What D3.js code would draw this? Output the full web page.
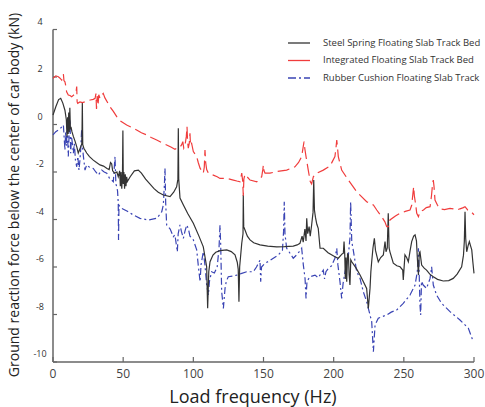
<!DOCTYPE html>
<html>
<head>
<meta charset="utf-8">
<script src="https://cdn.jsdelivr.net/npm/d3@7"></script>
<style>
  body { margin: 0; background: #fff; }
  text { font-family: "Open Sans", "DejaVu Sans", sans-serif; fill: #333; }
</style>
</head>
<body>
<script>
// series: [frequency (Hz), reaction force (kN)]
var steelSpring = [
  [0,0.4],[2,0.75],[4,1.05],[5.5,1.1],[7,0.9],[8.5,0.6],
  [9.5,0.2],[10,-0.5],[10.4,0.3],[10.8,-0.4],[11.2,0.5],[11.6,-0.3],[12,0.7],[12.4,-0.2],[12.8,-0.1],
  [13.5,-0.3],[14.5,-0.5],[15.7,-0.7],[17,-0.95],[18,-1.2],[19,-1.05],[20,-0.9],[20.6,-0.8],[20.9,0.95],[21.2,-0.85],
  [22,-1.0],[24,-1.2],[26,-1.35],[28.7,-1.5],[31,-1.6],[33.5,-1.7],[36,-1.75],[38.5,-1.85],[40,-1.9],[41,-1.6],
  [41.8,-1.65],[42.5,-1.95],[44,-2.05],[45.5,-2.0],[46.5,-2.2],[47.5,-1.95],[48,-2.6],[48.5,-2.0],[49,-2.7],[49.5,-2.1],
  [49.8,-0.25],[50.1,-2.5],[50.5,-2.0],[51,-2.7],[51.5,-2.1],[52,-2.6],[52.5,-2.2],[53,-2.4],[55,-2.2],[58,-1.95],
  [60.8,-1.92],[63,-2.05],[66,-2.3],[69,-2.5],[72,-2.7],[75,-2.85],[78.6,-2.97],[83.4,-3.04],[86,-2.85],[88.1,-2.62],
  [89,-2.3],[89.3,-0.16],[89.6,-2.3],[90.5,-3.1],[93,-3.4],[96,-3.75],[100,-4.16],[104,-4.7],[107.1,-5.15],[109.5,-5.99],
  [110.2,-7.74],[111,-6.2],[111.9,-5.78],[114,-5.5],[116,-5.38],[119,-5.31],[123.8,-5.28],[127,-5.35],[129.7,-5.49],
  [131.3,-5.8],[132,-6.1],[132.5,-7.46],[133,-6.0],[134.5,-5.0],[135.4,-4.6],[135.6,-2.97],[135.9,-4.3],[136.8,-4.44],
  [138.5,-4.7],[140.4,-4.86],[143,-4.98],[147.5,-5.07],[153,-5.12],[159.4,-5.15],[165,-5.14],[171.2,-5.12],[174,-5.07],
  [176,-5.0],[177.5,-4.7],[178.3,-4.95],[179.5,-4.4],[180.3,-4.9],[180.8,-3.95],[181.5,-4.6],[182.5,-4.3],[183.3,-4.7],
  [184.3,-4.23],[185.3,-3.7],[185.8,-2.34],[186.3,-3.6],[187,-3.9],[188,-4.2],[189,-4.37],[190.3,-5.21],[192.6,-5.21],
  [196,-5.4],[200.9,-5.57],[203.3,-5.63],[206,-5.45],[206.9,-5.42],[207.4,-4.93],[207.9,-5.5],[208.3,-6.5],[208.8,-5.6],
  [209.3,-6.62],[209.9,-5.45],[210.5,-5.49],[211,-6.3],[211.6,-6.76],[212.2,-5.7],[212.9,-5.78],[216,-6.05],[218.8,-6.34],
  [221,-6.6],[223.5,-6.9],[224.7,-7.74],[225.9,-6.9],[226.5,-6.2],[227.1,-5.78],[228,-5.2],[229,-4.79],[229.8,-5.3],
  [231.8,-5.78],[233.5,-5.6],[235.4,-5.49],[236.6,-4.93],[237.3,-5.36],[238.2,-5.2],[238.9,-3.74],[239.5,-5.2],[240.1,-5.36],
  [242.5,-5.84],[245,-5.95],[247.3,-5.99],[249.2,-6.13],[249.6,-6.55],[250.1,-6.1],[250.8,-5.49],[252,-5.6],[253.2,-5.78],
  [254.5,-5.3],[255.6,-4.93],[257,-4.7],[258,-4.65],[259,-4.9],[259.6,-5.6],[260.4,-6.34],[261,-5.4],[261.5,-5.36],
  [262.7,-5.92],[264.5,-6.05],[266.2,-6.13],[268.5,-6.3],[271,-6.41],[274,-6.52],[278.1,-6.59],[282,-6.57],[285.2,-6.48],
  [288,-6.3],[291.2,-5.99],[292.5,-5.5],[293.1,-4.93],[293.6,-3.67],[294.1,-4.8],[294.8,-5.36],[295.8,-5.1],[296.7,-4.93],
  [297.5,-5.1],[298.4,-5.28],[299.2,-5.8],[300,-6.27]
];

var integrated = [
  [0,1.95],[2,2.05],[3.8,2.01],[5,1.95],[6.2,1.87],[7,2.0],[7.4,2.12],[7.8,1.85],[8.5,1.8],[9.2,1.6],[9.7,1.38],
  [10.9,1.24],[12.1,1.22],[13.3,1.17],[15,1.25],[16.3,1.3],[16.9,1.6],[17.2,0.95],[17.6,0.89],[19.2,0.95],[21,0.92],
  [24,0.98],[26.5,1.03],[28.7,1.06],[30,1.1],[30.6,1.3],[31,0.65],[31.5,1.2],[32.1,0.8],[32.6,1.25],[33.5,1.1],
  [35,1.25],[35.8,1.31],[37,1.12],[40.6,0.75],[43,0.55],[45.4,0.33],[48,0.15],[52.5,-0.02],[56,-0.12],[59.6,-0.23],
  [63,-0.35],[66.8,-0.44],[70,-0.55],[73.9,-0.65],[77,-0.75],[81,-0.86],[84,-0.95],[86.9,-1.04],[88.1,-1.0],[89.3,-0.99],
  [90.5,-0.95],[91.7,-0.85],[92.5,-0.72],[93.2,-1.0],[94,-0.9],[95,-0.5],[95.5,-0.09],[95.9,-0.7],[96.4,-1.0],[97.1,-0.8],
  [97.6,-0.37],[98,-0.9],[98.8,-0.8],[100,-1.14],[102.4,-1.35],[103.5,-1.6],[104.8,-1.84],[107.1,-2.05],[107.8,-1.8],
  [108.3,-1.07],[108.8,-1.6],[109.5,-1.9],[110.7,-2.05],[114.2,-2.13],[117,-2.2],[119,-2.27],[123.8,-2.27],[128.5,-2.34],
  [131,-2.38],[133.3,-2.41],[134.5,-2.05],[135.2,-2.4],[135.6,-3.0],[136,-2.3],[136.8,-2.1],[140.4,-2.34],[145.2,-2.41],
  [148.7,-2.2],[149.5,-1.9],[149.9,-1.71],[150.4,-1.95],[151.1,-2.05],[154.6,-2.05],[159.4,-1.98],[166.5,-1.92],
  [172.4,-1.78],[175,-1.6],[177.2,-1.35],[178.4,-0.9],[178.9,-0.72],[179.4,-1.0],[180.3,-1.35],[181.9,-1.92],[183.3,-2.4],
  [184.3,-2.5],[185.5,-2.2],[187.9,-2.05],[192.6,-1.92],[197.4,-1.75],[200.9,-1.35],[201.7,-0.95],[202.2,-0.65],
  [202.7,-0.95],[203.3,-1.35],[205.7,-1.92],[210.5,-2.34],[216.4,-2.83],[223.5,-3.25],[228.3,-3.39],[230.7,-3.6],
  [234.2,-3.88],[236.5,-4.1],[237.8,-4.3],[238.9,-4.3],[240.1,-4.02],[244,-3.85],[247.3,-3.74],[251,-3.66],[254.4,-3.6],
  [255.6,-3.4],[256.5,-2.9],[257,-2.62],[257.5,-3.0],[258.5,-3.4],[259.2,-3.74],[260.4,-3.88],[261.5,-3.67],[264,-3.6],
  [266,-3.5],[268.7,-3.46],[269.7,-3.0],[270.5,-2.5],[271,-2.34],[271.5,-2.6],[272.2,-3.18],[274,-3.4],[275.8,-3.55],
  [279,-3.58],[282.9,-3.53],[285.2,-3.55],[288,-3.6],[290,-3.55],[292.4,-3.5],[293.6,-3.46],[295.5,-3.6],[297.5,-3.65],
  [300,-3.8]
];

var rubberCushion = [
  [0,-0.44],[2,-0.3],[3.8,-0.23],[5.5,-0.15],[7.4,-0.02],[8,-0.6],[8.5,-1.07],[9,-0.3],[9.5,-0.9],[10.2,-0.1],
  [10.9,-1.35],[11.5,-0.4],[12.1,0.2],[12.6,-1.21],[13.2,-0.5],[14,-0.9],[14.5,-1.21],[15.2,-0.8],[16,-1.5],[16.9,-1.78],
  [17.7,-1.35],[18.5,-1.92],[19.2,-1.49],[19.8,-1.0],[20.4,-0.23],[21,-0.93],[21.6,-1.3],[22.8,-1.92],[24,-1.7],[26,-1.8],
  [28.7,-1.85],[30.5,-2.0],[32.3,-2.13],[34.7,-1.92],[36.5,-2.0],[38.3,-2.05],[40.6,-2.3],[41.8,-2.34],[43,-2.41],
  [44.2,-1.35],[44.8,-2.5],[45.4,-2.62],[46,-2.8],[46.5,-3.3],[46.7,-4.86],[47,-3.4],[47.7,-3.46],[49,-3.53],[53,-3.65],
  [57.2,-3.81],[62,-3.95],[67.9,-4.02],[73.9,-3.95],[76,-3.8],[77.5,-3.67],[78.6,-3.39],[79.4,-2.5],[79.8,-1.84],
  [80.3,-3.3],[81,-4.23],[83.5,-4.4],[85.7,-4.72],[86.9,-4.65],[88.1,-5.15],[88.6,-5.36],[89.2,-4.6],[90.5,-4.23],
  [91.5,-4.5],[92.9,-4.79],[94,-4.5],[95.3,-4.23],[96.5,-4.4],[97.6,-4.7],[100,-4.86],[102.4,-5.28],[103.5,-5.92],
  [104.8,-6.62],[105.5,-5.9],[107.1,-5.36],[108.3,-5.92],[109.5,-6.76],[110.7,-7.18],[111.5,-6.6],[113,-6.2],[115,-6.25],
  [117,-6.0],[118.3,-5.2],[119,-4.23],[119.5,-5.07],[120.2,-7.04],[121.4,-7.74],[122.6,-6.9],[123.5,-6.6],[124.9,-6.41],
  [128.5,-6.38],[130.9,-6.34],[134.5,-6.27],[138,-6.2],[142.7,-6.2],[145,-6.0],[147.5,-5.71],[148,-6.62],[148.6,-6.0],
  [151.1,-5.84],[154,-5.75],[157,-5.63],[160.6,-5.49],[163.5,-5.3],[164.3,-4.5],[164.8,-3.25],[165.3,-4.6],[166.5,-5.21],
  [168.9,-5.42],[171.2,-5.63],[173.6,-5.49],[175.5,-5.35],[177.2,-5.21],[178.4,-5.92],[179.6,-6.48],[180.3,-7.32],
  [181,-6.6],[183.1,-6.41],[186.7,-6.34],[189,-6.45],[192.6,-6.13],[193.5,-6.5],[194.5,-6.2],[196.2,-6.06],[198.5,-5.95],
  [200.9,-5.63],[202.2,-5.21],[203,-5.9],[204.5,-6.62],[205.7,-7.32],[206.7,-6.7],[208.1,-6.2],[210.5,-5.49],[211.6,-4.79],
  [212.1,-3.25],[212.9,-4.93],[214,-5.3],[216.4,-6.2],[218.8,-6.48],[221.1,-7.04],[223.5,-7.46],[225.9,-8.02],[227.1,-8.3],
  [228.3,-9.57],[229.5,-8.44],[231.8,-8.16],[234,-8.1],[237.8,-8.02],[241,-7.9],[244.9,-7.81],[249.6,-7.53],[254.4,-7.18],
  [258,-6.76],[259.6,-6.2],[260.4,-5.21],[261,-6.4],[261.5,-7.6],[262,-8.02],[262.6,-6.6],[263.8,-6.76],[266.2,-6.9],
  [268.7,-6.48],[269.8,-5.99],[271,-6.76],[273.3,-7.18],[276.9,-7.53],[282.9,-7.88],[290,-8.23],[296,-8.58],[299.5,-9.15]
];

var xTicks = [0, 50, 100, 150, 200, 250, 300];
var yTicks = [-10, -8, -6, -4, -2, 0, 2, 4];
var seriesNames = ["Steel Spring Floating Slab Track Bed", "Integrated Floating Slab Track Bed", "Rubber Cushion Floating Slab Track"];

var width = 485, height = 407;
var margin = {top: 29.5, right: 11, bottom: 45, left: 53};

var svg = d3.select("body").append("svg")
    .attr("width", width)
    .attr("height", height);

var x = d3.scaleLinear().domain([0, 300]).range([margin.left, width - margin.right]);
var y = d3.scaleLinear().domain([-10, 4]).range([height - margin.bottom, margin.top]);

// axes (inward ticks, labels placed by hand)
var axisColor = "#666";
svg.append("line")
    .attr("x1", x(0)).attr("x2", x(0))
    .attr("y1", y(4)).attr("y2", y(-10))
    .attr("stroke", axisColor).attr("stroke-width", 1.5);
svg.append("line")
    .attr("x1", x(0)).attr("x2", x(300))
    .attr("y1", y(-10)).attr("y2", y(-10))
    .attr("stroke", axisColor).attr("stroke-width", 1.5);

svg.selectAll(".ytick").data(yTicks).enter().append("line")
    .attr("x1", x(0)).attr("x2", x(0) + 4)
    .attr("y1", function(d) { return y(d); }).attr("y2", function(d) { return y(d); })
    .attr("stroke", axisColor).attr("stroke-width", 1.2);
svg.selectAll(".ylab").data(yTicks).enter().append("text")
    .attr("x", 40)
    .attr("y", function(d) { return y(d) - 7; })
    .attr("text-anchor", "middle")
    .attr("dominant-baseline", "middle")
    .style("font-size", "9px")
    .text(function(d) { return d; });

svg.selectAll(".xtick").data(xTicks).enter().append("line")
    .attr("x1", function(d) { return x(d); }).attr("x2", function(d) { return x(d); })
    .attr("y1", y(-10)).attr("y2", y(-10) - 5)
    .attr("stroke", axisColor).attr("stroke-width", 1.2);
svg.selectAll(".xlab").data(xTicks).enter().append("text")
    .attr("x", function(d) { return x(d); })
    .attr("y", y(-10) + 16)
    .attr("text-anchor", "middle")
    .style("font-size", "12px")
    .style("fill", "#444")
    .text(function(d) { return d; });

svg.append("text")
    .attr("x", 253)
    .attr("y", 403)
    .attr("text-anchor", "middle")
    .style("font-size", "18px")
    .style("fill", "#222")
    .text("Load frequency (Hz)");

svg.append("text")
    .attr("transform", "translate(19," + 195 + ") rotate(-90)")
    .attr("text-anchor", "middle")
    .style("font-size", "14px")
    .style("fill", "#222")
    .text("Ground reaction force below the center of car body (kN)");

// curves
var line = d3.line()
    .x(function(d) { return x(d[0]); })
    .y(function(d) { return y(d[1]); });

var styles = [
    {data: steelSpring, color: "#333", dash: null},
    {data: integrated, color: "#f03c3c", dash: "12,5"},
    {data: rubberCushion, color: "#3a44b4", dash: "7,3,2,3"}
];

// draw rubber first, then steel, red on top
[2, 0, 1].forEach(function(i) {
    svg.append("path")
        .datum(styles[i].data)
        .attr("fill", "none")
        .attr("stroke", styles[i].color)
        .attr("stroke-width", 1.2)
        .attr("stroke-dasharray", styles[i].dash)
        .attr("d", line);
});

// legend
var legend = svg.selectAll(".legend").data(seriesNames).enter().append("g")
    .attr("transform", function(d, i) { return "translate(288," + (43 + i * 17.5) + ")"; });
legend.append("line")
    .attr("x1", 0).attr("x2", 22)
    .attr("stroke", function(d, i) { return styles[i].color; })
    .attr("stroke-width", 1.3)
    .attr("stroke-dasharray", function(d, i) { return i == 2 ? "8,3,2,3" : null; });
legend.append("text")
    .attr("x", 35)
    .attr("dominant-baseline", "middle")
    .style("font-size", "9.5px")
    .text(function(d) { return d; });
</script>
</body>
</html>
